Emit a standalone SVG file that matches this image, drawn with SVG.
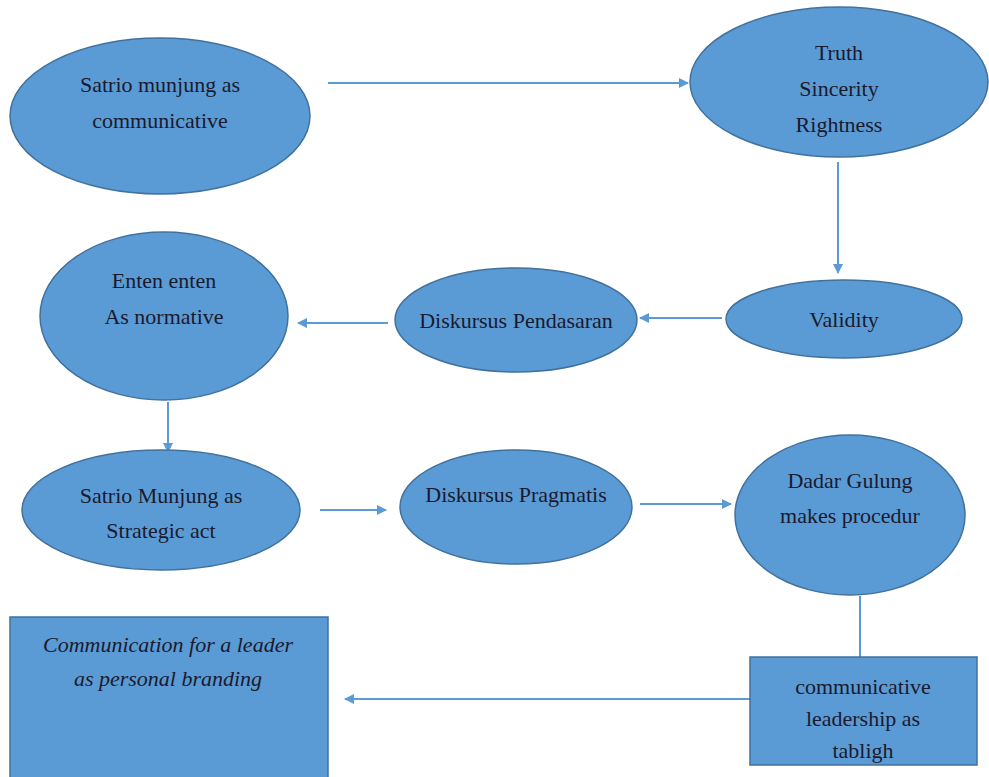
<svg xmlns="http://www.w3.org/2000/svg" width="989" height="777" viewBox="0 0 989 777">
<style>
.n{fill:#5b9bd5;stroke:#41719c;stroke-width:1.5}
.t{font-family:"Liberation Serif","DejaVu Serif",serif;font-size:22px;fill:#1a1a2e;text-anchor:middle}
.i{font-style:italic}
.c{stroke:#5b9bd5;stroke-width:2;fill:none}
</style>
<defs>
<marker id="ah" markerWidth="10" markerHeight="10" refX="9" refY="5" orient="auto" markerUnits="userSpaceOnUse">
<path d="M0,0 L10,5 L0,10 z" fill="#5b9bd5"/>
</marker>
</defs>
<rect width="989" height="777" fill="#ffffff"/>
<g id="connectors">
<line class="c" x1="328" y1="83" x2="688" y2="83" marker-end="url(#ah)"/>
<line class="c" x1="838" y1="162" x2="838" y2="273" marker-end="url(#ah)"/>
<line class="c" x1="722" y1="318" x2="640" y2="318" marker-end="url(#ah)"/>
<line class="c" x1="388" y1="323" x2="298" y2="323" marker-end="url(#ah)"/>
<line class="c" x1="168" y1="402" x2="168" y2="452" marker-end="url(#ah)"/>
<line class="c" x1="320" y1="510" x2="386" y2="510" marker-end="url(#ah)"/>
<line class="c" x1="640" y1="504" x2="731" y2="504" marker-end="url(#ah)"/>
<line class="c" x1="860" y1="596" x2="860" y2="657"/>
<line class="c" x1="750" y1="699" x2="345" y2="699" marker-end="url(#ah)"/>
</g>
<g id="n1"><ellipse class="n" cx="160" cy="116" rx="150" ry="78"/>
<text class="t" x="160" y="92">Satrio munjung as</text><text class="t" x="160" y="128">communicative</text></g>
<g id="n2"><ellipse class="n" cx="839" cy="82" rx="149" ry="75"/>
<text class="t" x="839" y="60">Truth</text><text class="t" x="839" y="96">Sincerity</text><text class="t" x="839" y="132">Rightness</text></g>
<g id="n3"><ellipse class="n" cx="844" cy="319" rx="118" ry="39"/>
<text class="t" x="844" y="327">Validity</text></g>
<g id="n4"><ellipse class="n" cx="516" cy="320" rx="121" ry="52"/>
<text class="t" x="516" y="328">Diskursus Pendasaran</text></g>
<g id="n5"><ellipse class="n" cx="164" cy="316" rx="124" ry="84"/>
<text class="t" x="164" y="288">Enten enten</text><text class="t" x="164" y="324">As normative</text></g>
<g id="n6"><ellipse class="n" cx="161" cy="510" rx="139" ry="60"/>
<text class="t" x="161" y="503">Satrio Munjung as</text><text class="t" x="161" y="538">Strategic act</text></g>
<g id="n7"><ellipse class="n" cx="516" cy="507" rx="116" ry="57"/>
<text class="t" x="516" y="502">Diskursus Pragmatis</text></g>
<g id="n8"><ellipse class="n" cx="850" cy="515" rx="115" ry="80"/>
<text class="t" x="850" y="488">Dadar Gulung</text><text class="t" x="850" y="523">makes procedur</text></g>
<g id="n9"><rect class="n" x="750" y="657" width="227" height="108"/>
<text class="t" x="863" y="694">communicative</text><text class="t" x="863" y="726">leadership  as</text><text class="t" x="863" y="758">tabligh</text></g>
<g id="n10"><rect class="n" x="10" y="617" width="318" height="162"/>
<text class="t i" x="168" y="652">Communication for a leader</text><text class="t i" x="168" y="686">as personal branding</text></g>
</svg>
